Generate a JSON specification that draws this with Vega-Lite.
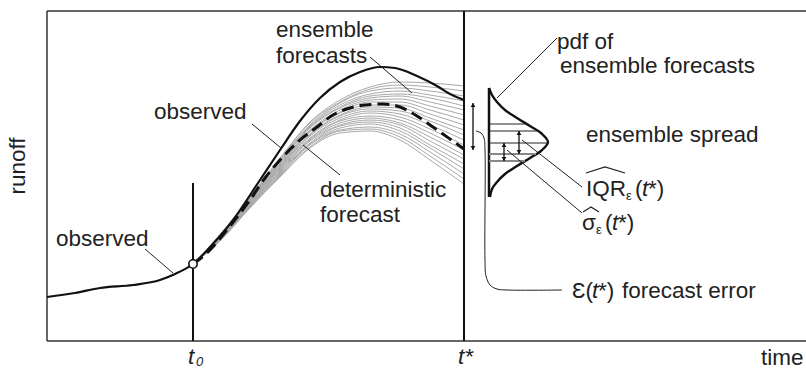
{
 "$schema": "https://vega.github.io/schema/vega-lite/v6.json",
 "width": 759, "height": 330,
 "autosize": {"type": "none"},
 "padding": {"left": 47, "top": 11, "right": 0, "bottom": 28},
 "background": "white",
 "config": {"view": {"stroke": null}, "text": {"font": "Liberation Sans"}},
 "datasets": {
  "frame": [{"x":0,"y":0,"x2":0,"y2":330},{"x":0,"y":330,"x2":759,"y2":330},{"x":0,"y":0,"x2":759,"y2":0}],
  "ens": [
   {"m":0,"x":146,"y":77},{"m":0,"x":173,"y":105},{"m":0,"x":203,"y":144},{"m":0,"x":233,"y":183},{"m":0,"x":263,"y":219},{"m":0,"x":293,"y":241},{"m":0,"x":323,"y":254},{"m":0,"x":353,"y":259},{"m":0,"x":383,"y":258},{"m":0,"x":417,"y":255},
   {"m":1,"x":146,"y":77},{"m":1,"x":173,"y":105},{"m":1,"x":203,"y":143},{"m":1,"x":233,"y":182},{"m":1,"x":263,"y":218},{"m":1,"x":293,"y":239},{"m":1,"x":323,"y":252},{"m":1,"x":353,"y":256},{"m":1,"x":383,"y":254},{"m":1,"x":417,"y":250},
   {"m":2,"x":146,"y":77},{"m":2,"x":173,"y":104},{"m":2,"x":203,"y":143},{"m":2,"x":233,"y":181},{"m":2,"x":263,"y":216},{"m":2,"x":293,"y":238},{"m":2,"x":323,"y":250},{"m":2,"x":353,"y":253},{"m":2,"x":383,"y":250},{"m":2,"x":417,"y":245},
   {"m":3,"x":146,"y":77},{"m":3,"x":173,"y":104},{"m":3,"x":203,"y":142},{"m":3,"x":233,"y":180},{"m":3,"x":263,"y":215},{"m":3,"x":293,"y":236},{"m":3,"x":323,"y":247},{"m":3,"x":353,"y":250},{"m":3,"x":383,"y":246},{"m":3,"x":417,"y":240},
   {"m":4,"x":146,"y":77},{"m":4,"x":173,"y":104},{"m":4,"x":203,"y":142},{"m":4,"x":233,"y":179},{"m":4,"x":263,"y":214},{"m":4,"x":293,"y":234},{"m":4,"x":323,"y":245},{"m":4,"x":353,"y":247},{"m":4,"x":383,"y":243},{"m":4,"x":417,"y":235},
   {"m":5,"x":146,"y":77},{"m":5,"x":173,"y":104},{"m":5,"x":203,"y":141},{"m":5,"x":233,"y":178},{"m":5,"x":263,"y":213},{"m":5,"x":293,"y":233},{"m":5,"x":323,"y":243},{"m":5,"x":353,"y":245},{"m":5,"x":383,"y":239},{"m":5,"x":417,"y":231},
   {"m":6,"x":146,"y":77},{"m":6,"x":173,"y":104},{"m":6,"x":203,"y":141},{"m":6,"x":233,"y":177},{"m":6,"x":263,"y":211},{"m":6,"x":293,"y":231},{"m":6,"x":323,"y":241},{"m":6,"x":353,"y":242},{"m":6,"x":383,"y":235},{"m":6,"x":417,"y":226},
   {"m":7,"x":146,"y":77},{"m":7,"x":173,"y":103},{"m":7,"x":203,"y":140},{"m":7,"x":233,"y":176},{"m":7,"x":263,"y":210},{"m":7,"x":293,"y":229},{"m":7,"x":323,"y":239},{"m":7,"x":353,"y":239},{"m":7,"x":383,"y":231},{"m":7,"x":417,"y":221},
   {"m":8,"x":146,"y":77},{"m":8,"x":173,"y":103},{"m":8,"x":203,"y":140},{"m":8,"x":233,"y":175},{"m":8,"x":263,"y":209},{"m":8,"x":293,"y":228},{"m":8,"x":323,"y":236},{"m":8,"x":353,"y":236},{"m":8,"x":383,"y":227},{"m":8,"x":417,"y":216},
   {"m":9,"x":146,"y":77},{"m":9,"x":173,"y":103},{"m":9,"x":203,"y":139},{"m":9,"x":233,"y":174},{"m":9,"x":263,"y":207},{"m":9,"x":293,"y":226},{"m":9,"x":323,"y":234},{"m":9,"x":353,"y":233},{"m":9,"x":383,"y":223},{"m":9,"x":417,"y":211},
   {"m":10,"x":146,"y":77},{"m":10,"x":173,"y":103},{"m":10,"x":203,"y":139},{"m":10,"x":233,"y":174},{"m":10,"x":263,"y":206},{"m":10,"x":293,"y":225},{"m":10,"x":323,"y":232},{"m":10,"x":353,"y":230},{"m":10,"x":383,"y":220},{"m":10,"x":417,"y":206},
   {"m":11,"x":146,"y":77},{"m":11,"x":173,"y":102},{"m":11,"x":203,"y":138},{"m":11,"x":233,"y":173},{"m":11,"x":263,"y":205},{"m":11,"x":293,"y":223},{"m":11,"x":323,"y":230},{"m":11,"x":353,"y":227},{"m":11,"x":383,"y":216},{"m":11,"x":417,"y":201},
   {"m":12,"x":146,"y":77},{"m":12,"x":173,"y":102},{"m":12,"x":203,"y":137},{"m":12,"x":233,"y":172},{"m":12,"x":263,"y":203},{"m":12,"x":293,"y":221},{"m":12,"x":323,"y":228},{"m":12,"x":353,"y":224},{"m":12,"x":383,"y":212},{"m":12,"x":417,"y":196},
   {"m":13,"x":146,"y":77},{"m":13,"x":173,"y":102},{"m":13,"x":203,"y":137},{"m":13,"x":233,"y":171},{"m":13,"x":263,"y":202},{"m":13,"x":293,"y":220},{"m":13,"x":323,"y":225},{"m":13,"x":353,"y":221},{"m":13,"x":383,"y":208},{"m":13,"x":417,"y":191},
   {"m":14,"x":146,"y":77},{"m":14,"x":173,"y":102},{"m":14,"x":203,"y":136},{"m":14,"x":233,"y":170},{"m":14,"x":263,"y":201},{"m":14,"x":293,"y":218},{"m":14,"x":323,"y":223},{"m":14,"x":353,"y":218},{"m":14,"x":383,"y":204},{"m":14,"x":417,"y":186},
   {"m":15,"x":146,"y":77},{"m":15,"x":173,"y":101},{"m":15,"x":203,"y":136},{"m":15,"x":233,"y":169},{"m":15,"x":263,"y":200},{"m":15,"x":293,"y":216},{"m":15,"x":323,"y":221},{"m":15,"x":353,"y":216},{"m":15,"x":383,"y":200},{"m":15,"x":417,"y":182},
   {"m":16,"x":146,"y":77},{"m":16,"x":173,"y":101},{"m":16,"x":203,"y":135},{"m":16,"x":233,"y":168},{"m":16,"x":263,"y":198},{"m":16,"x":293,"y":215},{"m":16,"x":323,"y":219},{"m":16,"x":353,"y":213},{"m":16,"x":383,"y":196},{"m":16,"x":417,"y":177},
   {"m":17,"x":146,"y":77},{"m":17,"x":173,"y":101},{"m":17,"x":203,"y":135},{"m":17,"x":233,"y":167},{"m":17,"x":263,"y":197},{"m":17,"x":293,"y":213},{"m":17,"x":323,"y":217},{"m":17,"x":353,"y":210},{"m":17,"x":383,"y":193},{"m":17,"x":417,"y":172},
   {"m":18,"x":146,"y":77},{"m":18,"x":173,"y":101},{"m":18,"x":203,"y":134},{"m":18,"x":233,"y":166},{"m":18,"x":263,"y":196},{"m":18,"x":293,"y":211},{"m":18,"x":323,"y":214},{"m":18,"x":353,"y":207},{"m":18,"x":383,"y":189},{"m":18,"x":417,"y":167},
   {"m":19,"x":146,"y":77},{"m":19,"x":173,"y":100},{"m":19,"x":203,"y":134},{"m":19,"x":233,"y":165},{"m":19,"x":263,"y":194},{"m":19,"x":293,"y":210},{"m":19,"x":323,"y":212},{"m":19,"x":353,"y":204},{"m":19,"x":383,"y":185},{"m":19,"x":417,"y":162},
   {"m":20,"x":146,"y":77},{"m":20,"x":173,"y":100},{"m":20,"x":203,"y":133},{"m":20,"x":233,"y":164},{"m":20,"x":263,"y":193},{"m":20,"x":293,"y":208},{"m":20,"x":323,"y":210},{"m":20,"x":353,"y":201},{"m":20,"x":383,"y":181},{"m":20,"x":417,"y":157}
  ],
  "obs": [{"x":0,"y":44},{"x":28,"y":48},{"x":53,"y":53},{"x":86,"y":56},{"x":113,"y":61},{"x":128,"y":67},{"x":146,"y":77},{"x":163,"y":94},{"x":186,"y":121},{"x":213,"y":161},{"x":233,"y":191},{"x":253,"y":220},{"x":273,"y":243},{"x":293,"y":259},{"x":313,"y":269},{"x":333,"y":274},{"x":348,"y":273},{"x":370,"y":265},{"x":390,"y":255},{"x":403,"y":247},{"x":417,"y":241}],
  "det": [{"x":146,"y":77},{"x":163,"y":91},{"x":183,"y":115},{"x":203,"y":141},{"x":218,"y":163},{"x":233,"y":181},{"x":253,"y":201},{"x":270,"y":214},{"x":286,"y":226},{"x":303,"y":233},{"x":318,"y":236},{"x":336,"y":237},{"x":353,"y":234},{"x":370,"y":225},{"x":386,"y":214},{"x":403,"y":202},{"x":417,"y":192}],
  "vlines": [{"x":146,"y":0,"y2":158},{"x":417,"y":0,"y2":330}],
  "t0pt": [{"x":146,"y":77}],
  "pdf": [{"o":0,"x":442,"y":253},{"o":1,"x":445,"y":246},{"o":2,"x":450,"y":239},{"o":3,"x":458,"y":231},{"o":4,"x":470,"y":223},{"o":5,"x":483,"y":215},{"o":6,"x":494,"y":208},{"o":7,"x":501,"y":199},{"o":8,"x":494,"y":190},{"o":9,"x":483,"y":183},{"o":10,"x":470,"y":175},{"o":11,"x":458,"y":167},{"o":12,"x":450,"y":159},{"o":13,"x":445,"y":152},{"o":14,"x":443,"y":144}],
  "pdfaxis": [{"x":442,"y":144,"y2":253}],
  "qblack": [{"x":442,"x2":480,"y":217},{"x":442,"x2":490,"y":210},{"x":442,"x2":500,"y":198}],
  "qgray": [{"x":442,"x2":489,"y":187},{"x":442,"x2":478,"y":180}],
  "shafts": [{"x":426,"y":191,"y2":238},{"x":472,"y":187,"y2":210},{"x":457,"y":180,"y2":198}],
  "heads": [{"x":426,"y":236,"d":"up"},{"x":426,"y":193,"d":"down"},{"x":472,"y":208,"d":"up"},{"x":472,"y":189,"d":"down"},{"x":457,"y":196,"d":"up"},{"x":457,"y":182,"d":"down"}],
  "leaders": [{"x":205,"y":217,"x2":234,"y2":193},{"x":98,"y":92,"x2":126,"y2":68},{"x":323,"y":284,"x2":365,"y2":248},{"x":256,"y":196,"x2":293,"y2":166},{"x":510,"y":303,"x2":450,"y2":243},{"x":475,"y":201,"x2":535,"y2":154},{"x":460,"y":191,"x2":535,"y2":128}],
  "bracket": [{"o":0,"x":429,"y":210},{"o":1,"x":434,"y":208},{"o":2,"x":437,"y":203},{"o":3,"x":438,"y":191},{"o":4,"x":438,"y":81},{"o":5,"x":439,"y":65},{"o":6,"x":443,"y":56},{"o":7,"x":450,"y":52},{"o":8,"x":460,"y":51},{"o":9,"x":515,"y":51}],
  "hats": [{"h":"iqr","o":0,"x":539,"y":168},{"h":"iqr","o":1,"x":558,"y":174},{"h":"iqr","o":2,"x":578,"y":168},{"h":"s","o":0,"x":536,"y":129},{"h":"s","o":1,"x":544,"y":134},{"h":"s","o":2,"x":552,"y":129}],
  "txt": [{"x":229,"y":304,"t":"ensemble"},{"x":229,"y":278,"t":"forecasts"},{"x":107,"y":222,"t":"observed"},{"x":9,"y":95,"t":"observed"},{"x":273,"y":144,"t":"deterministic"},{"x":273,"y":119,"t":"forecast"},{"x":510,"y":292,"t":"pdf of"},{"x":513,"y":268,"t":"ensemble forecasts"},{"x":539,"y":199,"t":"ensemble spread"},{"x":539,"y":145,"t":"IQR"},{"x":588,"y":145,"t":"("},{"x":601,"y":145,"t":"*)"},{"x":535,"y":111,"t":"σ"},{"x":558,"y":111,"t":"("},{"x":571,"y":111,"t":"*)"},{"x":525,"y":43,"t":"Ɛ("},{"x":551,"y":43,"t":"*)"},{"x":575,"y":43,"t":"forecast error"},{"x":714,"y":-24,"t":"time"}],
  "itxt": [{"x":141,"y":-23,"t":"t"},{"x":411,"y":-23,"t":"t*"},{"x":595,"y":145,"t":"t"},{"x":565,"y":111,"t":"t"},{"x":545,"y":43,"t":"t"}],
  "subi": [{"x":149,"y":-25,"t":"0"}],
  "subn": [{"x":579,"y":141,"t":"ε"},{"x":549,"y":107,"t":"ε"}],
  "ylab": [{"x":-22,"y":175,"t":"runoff"}]
 },
 "encoding": {
  "x": {"field": "x", "type": "quantitative", "scale": {"domain": [0, 759], "nice": false, "zero": false}, "axis": null},
  "y": {"field": "y", "type": "quantitative", "scale": {"domain": [0, 330], "nice": false, "zero": false}, "axis": null}
 },
 "layer": [
  {"data": {"name": "frame"}, "mark": {"type": "rule", "color": "#333", "strokeWidth": 1.5}, "encoding": {"x2": {"field": "x2"}, "y2": {"field": "y2"}}},
  {"data": {"name": "ens"}, "mark": {"type": "line", "color": "#a9a9a9", "strokeWidth": 1, "interpolate": "monotone"}, "encoding": {"detail": {"field": "m", "type": "nominal"}}},
  {"data": {"name": "obs"}, "mark": {"type": "line", "color": "#111", "strokeWidth": 2.2, "interpolate": "monotone"}, "encoding": {}},
  {"data": {"name": "det"}, "mark": {"type": "line", "color": "#111", "strokeWidth": 3, "strokeDash": [12, 6], "interpolate": "monotone"}, "encoding": {}},
  {"data": {"name": "vlines"}, "mark": {"type": "rule", "color": "#111", "strokeWidth": 2}, "encoding": {"y2": {"field": "y2"}}},
  {"data": {"name": "t0pt"}, "mark": {"type": "point", "filled": true, "fill": "white", "stroke": "#111", "strokeWidth": 1.6, "size": 70, "opacity": 1}, "encoding": {}},
  {"data": {"name": "pdf"}, "mark": {"type": "line", "color": "#111", "strokeWidth": 2.4, "interpolate": "catmull-rom"}, "encoding": {"order": {"field": "o", "type": "quantitative"}}},
  {"data": {"name": "pdfaxis"}, "mark": {"type": "rule", "color": "#111", "strokeWidth": 2.5}, "encoding": {"y2": {"field": "y2"}}},
  {"data": {"name": "qblack"}, "mark": {"type": "rule", "color": "#222", "strokeWidth": 1.2}, "encoding": {"x2": {"field": "x2"}}},
  {"data": {"name": "qgray"}, "mark": {"type": "rule", "color": "#888", "strokeWidth": 2}, "encoding": {"x2": {"field": "x2"}}},
  {"data": {"name": "shafts"}, "mark": {"type": "rule", "color": "#111", "strokeWidth": 1.3}, "encoding": {"y2": {"field": "y2"}}},
  {"data": {"name": "heads"}, "mark": {"type": "point", "filled": true, "color": "#111", "size": 22, "opacity": 1}, "encoding": {"shape": {"field": "d", "type": "nominal", "scale": {"domain": ["up", "down"], "range": ["triangle-up", "triangle-down"]}, "legend": null}}},
  {"data": {"name": "leaders"}, "mark": {"type": "rule", "color": "#222", "strokeWidth": 1}, "encoding": {"x2": {"field": "x2"}, "y2": {"field": "y2"}}},
  {"data": {"name": "bracket"}, "mark": {"type": "line", "color": "#222", "strokeWidth": 1, "interpolate": "catmull-rom"}, "encoding": {"order": {"field": "o", "type": "quantitative"}}},
  {"data": {"name": "hats"}, "mark": {"type": "line", "color": "#222", "strokeWidth": 1.2}, "encoding": {"detail": {"field": "h", "type": "nominal"}, "order": {"field": "o", "type": "quantitative"}}},
  {"data": {"name": "txt"}, "mark": {"type": "text", "fontSize": 22.5, "color": "#222", "align": "left", "baseline": "alphabetic"}, "encoding": {"text": {"field": "t"}}},
  {"data": {"name": "itxt"}, "mark": {"type": "text", "fontSize": 22.5, "fontStyle": "italic", "color": "#222", "align": "left", "baseline": "alphabetic"}, "encoding": {"text": {"field": "t"}}},
  {"data": {"name": "subi"}, "mark": {"type": "text", "fontSize": 13, "fontStyle": "italic", "color": "#222", "align": "left", "baseline": "alphabetic"}, "encoding": {"text": {"field": "t"}}},
  {"data": {"name": "subn"}, "mark": {"type": "text", "fontSize": 13, "color": "#222", "align": "left", "baseline": "alphabetic"}, "encoding": {"text": {"field": "t"}}},
  {"data": {"name": "ylab"}, "mark": {"type": "text", "fontSize": 22.5, "color": "#222", "align": "center", "baseline": "alphabetic", "angle": 270}, "encoding": {"text": {"field": "t"}}}
 ]
}
